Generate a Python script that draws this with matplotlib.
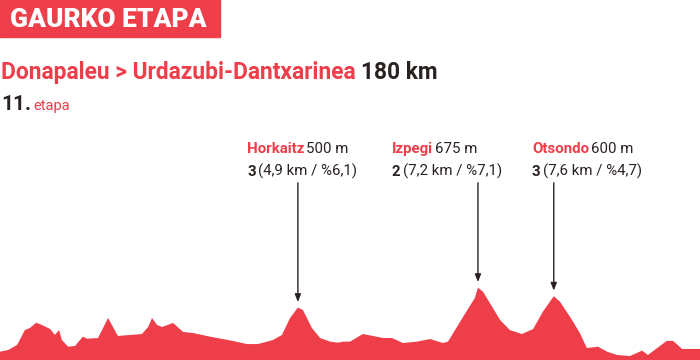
import matplotlib.pyplot as plt
from matplotlib.transforms import IdentityTransform

RED = '#ee3e4a'
DARK = '#2a2220'

km = [0, 2.1, 4.4, 6.4, 7.7, 9.3, 10.8, 12.9, 14.1, 15.2, 15.9, 17.5, 19.3, 21.3, 22.4,
      25.2, 27.8, 30.3, 36.5, 38.1, 39.1, 40.4, 41.7, 44.5, 47.1, 49.6, 54.0, 59.9, 63.5,
      66.3, 68.7, 70.2, 72.5, 74.6, 76.6, 77.9, 80.2, 82.3, 84.9, 86.9, 88.2, 90.0, 93.3,
      95.9, 98.5, 100.8, 103.6, 107.2, 110.6, 113.9, 115.2, 119.1, 122.1, 122.9, 124.2,
      128.6, 131.1, 134.2, 137.1, 139.6, 142.4, 144.0, 147.1, 149.1, 150.9, 153.8, 156.1,
      158.7, 162.0, 165.1, 166.6, 171.5, 173.1, 175.4, 180]
elev = [113, 128, 172, 303, 321, 367, 347, 312, 260, 303, 216, 157, 163, 245, 227,
        233, 409, 251, 268, 330, 409, 347, 330, 365, 286, 277, 245, 207, 180,
        180, 201, 216, 260, 409, 500, 479, 321, 233, 201, 192, 201, 201, 268,
        251, 233, 233, 189, 201, 224, 189, 201, 420, 584, 675, 640,
        391, 303, 268, 312, 464, 600, 552, 391, 277, 145, 157, 113,
        84, 75, 122, 84, 209, 207, 137, 137]

climb_names = ['Horkaitz', 'Izpegi', 'Otsondo']
climb_alt = ['500 m', '675 m', '600 m']
climb_cat = ['3', '2', '3']
climb_info = ['(4,9 km / %6,1)', '(7,2 km / %7,1)', '(7,6 km / %4,7)']
climb_km = [76.6, 122.9, 142.4]
climb_top = [500, 675, 600]
label_x = [247, 392, 532]

fig = plt.figure(figsize=(7, 3.6), dpi=100)
ax = fig.add_axes([0, 0, 1, 1])
ax.fill_between(km, elev, 0, color=RED, lw=0)
ax.set_xlim(0, 180)
ax.set_ylim(40, 3200)
ax.axis('off')

H = 360
FONT = 'Roboto'


def chain(x, ytop, parts):
    # parts: (text, size, weight, color, gap); ytop is baseline in pixels from top
    r = fig.canvas.get_renderer()
    for s, size, weight, color, gap in parts:
        t = fig.text(x, H - ytop, s, fontsize=size, fontweight=weight, color=color,
                     family=FONT, transform=IdentityTransform(), va='baseline')
        x = t.get_window_extent(r).x1 + gap
    return x


# banner
fig.patches.append(plt.Rectangle((0, H - 37), 220, 37, color=RED,
                                 transform=IdentityTransform(), figure=fig))
fig.text(10, H - 27, 'GAURKO ETAPA', fontsize=19, fontweight='black', color='white',
         family=FONT, transform=IdentityTransform(), va='baseline')

chain(1, 79, [('Donapaleu > Urdazubi-Dantxarinea', 16.4, 'bold', RED, 5),
              ('180 km', 16.4, 'bold', DARK, 0)])
chain(1, 110, [('11.', 15, 'bold', DARK, 2),
               ('etapa', 10.5, 'normal', RED, 0)])

for i in range(3):
    chain(label_x[i], 153, [(climb_names[i], 10.8, 'bold', RED, 2),
                            (climb_alt[i], 10.8, 'normal', DARK, 0)])
    chain(label_x[i], 176, [(climb_cat[i], 10.8, 'bold', DARK, 2),
                            (climb_info[i], 10.8, 'normal', DARK, 0)])
    ax.annotate('', xy=(climb_km[i], climb_top[i] + 25), xytext=(climb_km[i], 1620),
                arrowprops=dict(arrowstyle='-|>,head_length=0.45,head_width=0.18',
                                color=DARK, lw=1))

fig.savefig('out.png', dpi=100)
